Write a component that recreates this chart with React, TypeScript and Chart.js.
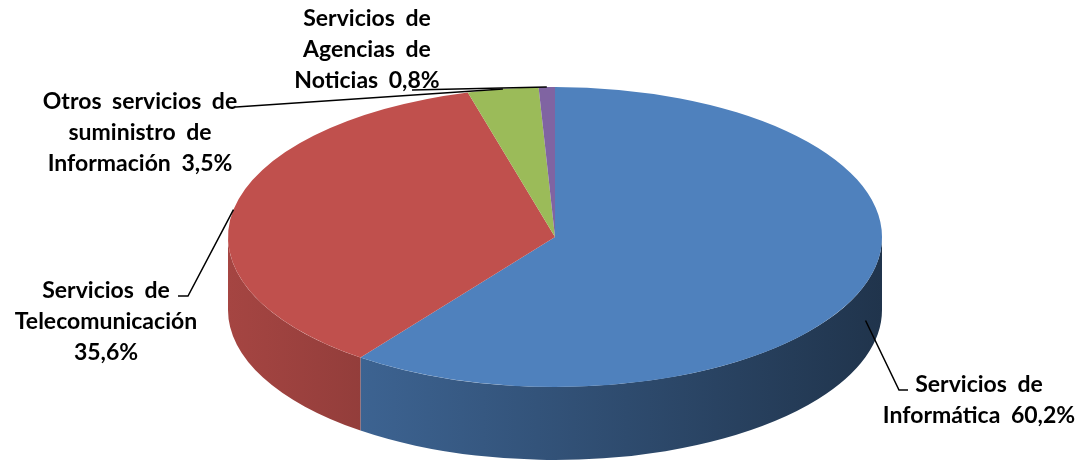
import React, { useEffect, useRef } from "react";
import { Chart, registerables } from "chart.js";

Chart.register(...registerables);

// ---- data ----
const categories = [
  "Servicios de Informática",
  "Servicios de Telecomunicación",
  "Otros servicios de suministro de Información",
  "Servicios de Agencias de Noticias",
];
const values = [60.2, 35.6, 3.5, 0.8];
// label lines; "{v}" is replaced by the formatted value
const labelTexts = [
  ["Servicios de", "Informática {v}"],
  ["Servicios de", "Telecomunicación", "{v}"],
  ["Otros servicios de", "suministro de", "Información {v}"],
  ["Servicios de", "Agencias de", "Noticias {v}"],
];

// ---- style ----
const topColors = ["#4F81BD", "#C0504D", "#9BBB59", "#8064A2"];
const STRETCH = 327 / 150; // horizontal stretch of the flattened pie
const DEPTH = 73; // side thickness
const FONT = "bold 23px Lato, 'Open Sans', sans-serif";
const LINE_H = 31;
// label layout: text centre x, first line centre y, leader path points (from label towards slice)
const labelLayout = [
  { tx: 979, ty: 385, path: [[908, 390], [899, 390]] },
  { tx: 106, ty: 291, path: [[178, 296], [188, 296]] },
  { tx: 140, ty: 102, path: [[236, 107]] },
  { tx: 367, ty: 19, path: [[412, 90]] },
];

function shade(hex: string, f: number) {
  const n = parseInt(hex.slice(1), 16);
  const r = Math.round(((n >> 16) & 255) * f);
  const g = Math.round(((n >> 8) & 255) * f);
  const b = Math.round((n & 255) * f);
  return `rgb(${r},${g},${b})`;
}

const fmt = (v: number) => v.toFixed(1).replace(".", ",") + "%";

const pie3d = {
  id: "pie3d",
  beforeDatasetsDraw(chart: any) {
    const ctx = chart.ctx as CanvasRenderingContext2D;
    const arcs = chart.getDatasetMeta(0).data;
    if (!arcs.length) return;
    const cx = arcs[0].x;
    const cy = arcs[0].y;
    arcs.forEach((arc: any, i: number) => {
      const { x, y, startAngle, endAngle, outerRadius } = arc.getProps(
        ["x", "y", "startAngle", "endAngle", "outerRadius"],
        true
      );
      const rx = outerRadius * STRETCH;
      const ry = outerRadius;
      for (let k = -1; k <= 1; k++) {
        const a1 = Math.max(startAngle, 2 * Math.PI * k);
        const a2 = Math.min(endAngle, 2 * Math.PI * k + Math.PI);
        if (a2 <= a1) continue;
        const g = ctx.createLinearGradient(x - rx, 0, x + rx, 0);
        g.addColorStop(0, shade(topColors[i], 0.86));
        g.addColorStop(1, shade(topColors[i], 0.4));
        ctx.beginPath();
        ctx.ellipse(x, y, rx, ry, 0, a1, a2);
        ctx.ellipse(x, y + DEPTH, rx, ry, 0, a2, a1, true);
        ctx.closePath();
        ctx.fillStyle = g;
        ctx.fill();
      }
    });
    ctx.save();
    ctx.translate(cx, cy);
    ctx.scale(STRETCH, 1);
    ctx.translate(-cx, -cy);
  },
  afterDatasetsDraw(chart: any) {
    chart.ctx.restore();
  },
  afterDraw(chart: any) {
    const ctx = chart.ctx as CanvasRenderingContext2D;
    const arcs = chart.getDatasetMeta(0).data;
    ctx.save();
    ctx.font = FONT;
    ctx.fillStyle = "#000";
    ctx.textAlign = "center";
    ctx.textBaseline = "middle";
    try {
      (ctx as any).wordSpacing = "5px";
    } catch (e) {}
    ctx.strokeStyle = "#000";
    ctx.lineWidth = 1.5;
    arcs.forEach((arc: any, i: number) => {
      const { x, y, startAngle, endAngle, outerRadius } = arc.getProps(
        ["x", "y", "startAngle", "endAngle", "outerRadius"],
        true
      );
      const m = (startAngle + endAngle) / 2;
      const ax = x + outerRadius * STRETCH * Math.cos(m);
      const ay = y + outerRadius * Math.sin(m) + (Math.sin(m) > 0 ? DEPTH / 2 : 0);
      const lay = labelLayout[i];
      ctx.beginPath();
      ctx.moveTo(lay.path[0][0], lay.path[0][1]);
      for (let p = 1; p < lay.path.length; p++) ctx.lineTo(lay.path[p][0], lay.path[p][1]);
      ctx.lineTo(ax, ay);
      ctx.stroke();
      labelTexts[i].forEach((t, li) => {
        ctx.fillText(t.replace("{v}", fmt(values[i])), lay.tx, lay.ty + li * LINE_H);
      });
    });
    ctx.restore();
  },
};

export default function App() {
  const ref = useRef<HTMLCanvasElement>(null);
  useEffect(() => {
    const chart = new Chart(ref.current!, {
      type: "pie",
      data: {
        labels: categories,
        datasets: [{ data: values, backgroundColor: topColors, borderWidth: 0 }],
      },
      options: {
        responsive: false,
        animation: false,
        layout: { padding: { left: 405, right: 378, top: 87, bottom: 74 } },
        plugins: { legend: { display: false }, tooltip: { enabled: false } },
      },
      plugins: [pie3d],
    });
    return () => chart.destroy();
  }, []);
  return (
    <div style={{ position: "fixed", left: 0, top: 0, width: 1083, height: 461, background: "#fff" }}>
      <canvas ref={ref} width={1083} height={461} />
    </div>
  );
}
